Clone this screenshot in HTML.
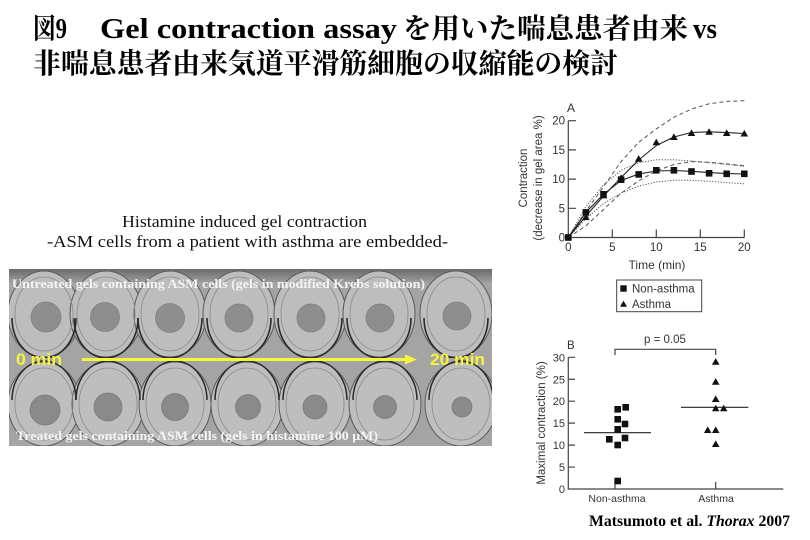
<!DOCTYPE html>
<html><head><meta charset="utf-8"><style>
html,body{margin:0;padding:0;background:#fff;}
svg{display:block;}
</style></head><body>
<svg width="810" height="540" viewBox="0 0 810 540" xmlns="http://www.w3.org/2000/svg">
<rect width="810" height="540" fill="#fff"/>

<!-- Title -->
<g font-family="'Liberation Serif','Noto Serif CJK SC','Noto Sans CJK JP',serif" font-weight="bold" font-size="28" fill="#000">
<text x="33" y="38" textLength="34" lengthAdjust="spacingAndGlyphs">図9</text>
<text x="100" y="38" textLength="297" lengthAdjust="spacingAndGlyphs">Gel contraction assay</text>
<text x="403" y="38" textLength="285" lengthAdjust="spacingAndGlyphs">を用いた喘息患者由来</text>
<text x="693" y="38" textLength="24" lengthAdjust="spacingAndGlyphs">vs</text>
<text x="33" y="73" textLength="585" lengthAdjust="spacingAndGlyphs">非喘息患者由来気道平滑筋細胞の収縮能の検討</text>
</g>

<!-- Photo caption -->
<g font-family="'Liberation Serif',serif" font-size="17" fill="#111">
<text x="122" y="227" textLength="245" lengthAdjust="spacingAndGlyphs">Histamine induced gel contraction</text>
<text x="47" y="247" textLength="401" lengthAdjust="spacingAndGlyphs">-ASM cells from a patient with asthma are embedded-</text>
</g>

<!-- Photo -->
<defs>
<clipPath id="topRow"><rect x="9" y="269" width="483" height="89"/></clipPath>
<clipPath id="botRow"><rect x="9" y="357" width="483" height="89"/></clipPath>
<linearGradient id="topband" x1="0" y1="0" x2="0" y2="1">
<stop offset="0" stop-color="#6a6a6a"/><stop offset="1" stop-color="#a0a0a0"/>
</linearGradient>
</defs>
<rect x="9" y="269" width="483" height="177" fill="#a4a4a4"/>
<rect x="9" y="269" width="483" height="14" fill="url(#topband)"/>

<g clip-path="url(#topRow)">
<g stroke="#5a5a5a" stroke-width="1" fill="#bdbdbd">
<ellipse cx="44" cy="314" rx="36" ry="43"/>
<ellipse cx="106" cy="314" rx="36" ry="43"/>
<ellipse cx="170" cy="314" rx="36" ry="43"/>
<ellipse cx="239" cy="314" rx="36" ry="43"/>
<ellipse cx="310" cy="314" rx="36" ry="43"/>
<ellipse cx="379" cy="314" rx="36" ry="43"/>
<ellipse cx="456" cy="314" rx="36" ry="43"/>
</g>
<g stroke="#2a2a2a" stroke-width="1.6" fill="none">
<path d="M12,318 A32 40 0 0 0 76,318"/>
<path d="M74,318 A32 40 0 0 0 138,318"/>
<path d="M138,318 A32 40 0 0 0 202,318"/>
<path d="M207,318 A32 40 0 0 0 271,318"/>
<path d="M278,318 A32 40 0 0 0 342,318"/>
<path d="M347,318 A32 40 0 0 0 411,318"/>
<path d="M424,318 A32 40 0 0 0 488,318"/>
</g>
<g stroke="#8a8a8a" stroke-width="0.8" fill="none">
<ellipse cx="44" cy="314" rx="29" ry="37"/>
<ellipse cx="106" cy="314" rx="29" ry="37"/>
<ellipse cx="170" cy="314" rx="29" ry="37"/>
<ellipse cx="239" cy="314" rx="29" ry="37"/>
<ellipse cx="310" cy="314" rx="29" ry="37"/>
<ellipse cx="379" cy="314" rx="29" ry="37"/>
<ellipse cx="456" cy="314" rx="29" ry="37"/>
</g>
<g fill="#8e8e8e" stroke="#808080" stroke-width="0.8">
<circle cx="46" cy="317" r="15"/>
<circle cx="105" cy="317" r="14.5"/>
<circle cx="170" cy="318" r="14.5"/>
<circle cx="239" cy="318" r="14"/>
<circle cx="311" cy="318" r="14"/>
<circle cx="380" cy="318" r="14"/>
<circle cx="457" cy="316" r="14"/>
</g>
</g>

<g clip-path="url(#botRow)">
<g stroke="#5a5a5a" stroke-width="1" fill="#bebebe">
<ellipse cx="44" cy="404" rx="36" ry="42"/>
<ellipse cx="108" cy="404" rx="36" ry="42"/>
<ellipse cx="175" cy="404" rx="36" ry="42"/>
<ellipse cx="247" cy="404" rx="36" ry="42"/>
<ellipse cx="315" cy="404" rx="36" ry="42"/>
<ellipse cx="385" cy="404" rx="36" ry="42"/>
<ellipse cx="461" cy="404" rx="36" ry="42"/>
</g>
<g stroke="#2a2a2a" stroke-width="1.5" fill="none">
<path d="M12,400 A32 39 0 0 1 76,400"/>
<path d="M76,400 A32 39 0 0 1 140,400"/>
<path d="M143,400 A32 39 0 0 1 207,400"/>
<path d="M215,400 A32 39 0 0 1 279,400"/>
<path d="M283,400 A32 39 0 0 1 347,400"/>
<path d="M353,400 A32 39 0 0 1 417,400"/>
<path d="M429,400 A32 39 0 0 1 493,400"/>
</g>
<g stroke="#8a8a8a" stroke-width="0.8" fill="none">
<ellipse cx="44" cy="404" rx="29" ry="36"/>
<ellipse cx="108" cy="404" rx="29" ry="36"/>
<ellipse cx="175" cy="404" rx="29" ry="36"/>
<ellipse cx="247" cy="404" rx="29" ry="36"/>
<ellipse cx="315" cy="404" rx="29" ry="36"/>
<ellipse cx="385" cy="404" rx="29" ry="36"/>
<ellipse cx="461" cy="404" rx="29" ry="36"/>
</g>
<g fill="#8a8a8a" stroke="#7a7a7a" stroke-width="0.8">
<circle cx="45" cy="410" r="15"/>
<circle cx="108" cy="407" r="14"/>
<circle cx="175" cy="407" r="13.5"/>
<circle cx="248" cy="407" r="12.5"/>
<circle cx="315" cy="407" r="12"/>
<circle cx="385" cy="407" r="11.5"/>
<circle cx="462" cy="407" r="10"/>
</g>
</g>

<!-- photo overlay text -->
<g font-family="'Liberation Serif',serif" font-weight="bold" font-size="13" fill="#f4f4f4">
<text x="12" y="288" textLength="413" lengthAdjust="spacingAndGlyphs">Untreated gels containing ASM cells (gels in modified Krebs solution)</text>
<text x="16" y="440" textLength="362" lengthAdjust="spacingAndGlyphs">Treated gels containing ASM cells (gels in histamine 100 μM)</text>
</g>
<g font-family="'Liberation Sans',sans-serif" font-weight="bold" font-size="17" fill="#f7f53a">
<text x="16" y="365" textLength="46" lengthAdjust="spacingAndGlyphs">0 min</text>
<text x="430" y="365" textLength="55" lengthAdjust="spacingAndGlyphs">20 min</text>
</g>
<line x1="82" y1="359.5" x2="408" y2="359.5" stroke="#f7f53a" stroke-width="3"/>
<polygon points="405,354.5 417,359.5 405,364.5" fill="#f7f53a"/>

<!-- Graph A -->
<g font-family="'Liberation Sans',sans-serif" fill="#333">
<text x="567" y="112" font-size="12">A</text>
<g font-size="11.5" text-anchor="end">
<text x="565" y="124.7">20</text>
<text x="565" y="153.9">15</text>
<text x="565" y="183.1">10</text>
<text x="565" y="212.3">5</text>
<text x="565" y="241.5">0</text>
</g>
<g font-size="11.5" text-anchor="middle">
<text x="568.3" y="251">0</text>
<text x="612.3" y="251">5</text>
<text x="656.3" y="251">10</text>
<text x="700.3" y="251">15</text>
<text x="744.3" y="251">20</text>
</g>
<text x="657" y="269" font-size="12" text-anchor="middle">Time (min)</text>
<text transform="translate(527,178) rotate(-90)" font-size="11.5" text-anchor="middle">Contraction</text>
<text transform="translate(542,178) rotate(-90)" font-size="11.5" text-anchor="middle">(decrease in gel area %)</text>
</g>
<g stroke="#444" stroke-width="1.2" fill="none">
<path d="M568.3,120.7 V237.5 H744.3"/>
<path d="M568.3,120.7 H576 M568.3,149.9 H576 M568.3,179.1 H576 M568.3,208.3 H576"/>
<path d="M612.3,237.5 V229.5 M656.3,237.5 V229.5 M700.3,237.5 V229.5 M744.3,237.5 V229.5"/>
</g>
<!-- confidence bands -->
<g fill="none" stroke="#555" stroke-width="1">
<polyline stroke-dasharray="4 3" points="568.3,237.5 585.9,211.2 603.5,186.7 621.1,161.6 638.7,142.3 656.3,128.9 673.9,117.2 691.5,109 709.1,103.8 726.7,101.4 744.3,100.8"/>
<polyline stroke-dasharray="4 3" points="568.3,237.5 585.9,225.8 603.5,209.5 621.1,193.1 638.7,180.9 656.3,170.9 673.9,164.5 691.5,161.6 709.1,162.2 726.7,163.9 744.3,165.7"/>
<polyline stroke-dasharray="1.2 1.6" points="568.3,237.5 585.9,206.5 603.5,184.9 621.1,170.3 638.7,162.7 656.3,159.8 673.9,159.8 691.5,161 709.1,162.7 726.7,164.5 744.3,166.3"/>
<polyline stroke-dasharray="1.2 1.6" points="568.3,237.5 585.9,218.8 603.5,203.6 621.1,193.1 638.7,186.1 656.3,182 673.9,180.3 691.5,180.3 709.1,181.4 726.7,182.6 744.3,183.8"/>
</g>
<!-- fit lines -->
<g fill="none" stroke="#222" stroke-width="1.1" stroke-linejoin="round">
<polyline points="568.3,237.5 585.9,216 603.5,196 621.1,177.5 638.7,160 656.3,145.5 673.9,137 691.5,132.5 709.1,131.8 726.7,132.6 744.3,133.5"/>
<polyline points="568.3,237.5 585.9,212.4 603.5,194.3 621.1,180.5 638.7,174 656.3,171 673.9,170.5 691.5,171.3 709.1,172.6 726.7,173.6 744.3,174"/>
</g>
<!-- markers A -->
<g fill="#111">
<polygon points="582.1,220.1 589.7,220.1 585.9,213.5"/>
<polygon points="599.7,198.4 607.3,198.4 603.5,191.8"/>
<polygon points="617.3,180.9 624.9,180.9 621.1,174.3"/>
<polygon points="634.9,161.7 642.5,161.7 638.7,155.1"/>
<polygon points="652.5,145.3 660.1,145.3 656.3,138.7"/>
<polygon points="670.1,140 677.7,140 673.9,133.4"/>
<polygon points="687.7,136 695.3,136 691.5,129.4"/>
<polygon points="705.3,134.8 712.9,134.8 709.1,128.2"/>
<polygon points="722.9,136 730.5,136 726.7,129.4"/>
<polygon points="740.5,136.5 748.1,136.5 744.3,129.9"/>
<rect x="565" y="234.2" width="6.6" height="6.6"/>
<rect x="582.6" y="209.1" width="6.6" height="6.6"/>
<rect x="600.2" y="191" width="6.6" height="6.6"/>
<rect x="617.8" y="176.4" width="6.6" height="6.6"/>
<rect x="635.4" y="171.1" width="6.6" height="6.6"/>
<rect x="653" y="167" width="6.6" height="6.6"/>
<rect x="670.6" y="167" width="6.6" height="6.6"/>
<rect x="688.2" y="168.2" width="6.6" height="6.6"/>
<rect x="705.8" y="170" width="6.6" height="6.6"/>
<rect x="723.4" y="170.5" width="6.6" height="6.6"/>
<rect x="741" y="170.5" width="6.6" height="6.6"/>
</g>
<!-- legend -->
<rect x="616.7" y="280" width="85" height="31.7" fill="none" stroke="#444" stroke-width="1"/>
<rect x="620.3" y="285.3" width="6.4" height="6.4" fill="#111"/>
<polygon points="620,306.8 627,306.8 623.5,300.8" fill="#111"/>
<g font-family="'Liberation Sans',sans-serif" font-size="11.5" fill="#333">
<text x="632" y="292.5">Non-asthma</text>
<text x="632" y="308">Asthma</text>
</g>

<!-- Graph B -->
<g font-family="'Liberation Sans',sans-serif" fill="#333">
<text x="567" y="349" font-size="11.5">B</text>
<text x="665" y="343" font-size="11.5" text-anchor="middle">p = 0.05</text>
<g font-size="11" text-anchor="end">
<text x="565" y="361.3">30</text>
<text x="565" y="383.3">25</text>
<text x="565" y="405.2">20</text>
<text x="565" y="427.2">15</text>
<text x="565" y="449.1">10</text>
<text x="565" y="471.1">5</text>
<text x="565" y="493">0</text>
</g>
<g font-size="10.5" text-anchor="middle">
<text x="617" y="502">Non-asthma</text>
<text x="716" y="502">Asthma</text>
</g>
<text transform="translate(545,423) rotate(-90)" font-size="11.5" text-anchor="middle">Maximal contraction (%)</text>
</g>
<g stroke="#444" stroke-width="1.2" fill="none">
<path d="M568.3,357.3 V489 H783.3"/>
<path d="M568.3,357.3 H575 M568.3,379.25 H575 M568.3,401.2 H575 M568.3,423.15 H575 M568.3,445.1 H575 M568.3,467.05 H575"/>
<path d="M615,489 V482 M715.7,489 V482"/>
<path d="M615,355 V349.3 H715.7 V355"/>
</g>
<g stroke="#222" stroke-width="1.1">
<line x1="584" y1="432.7" x2="651" y2="432.7"/>
<line x1="681" y1="407.3" x2="748.3" y2="407.3"/>
</g>
<g fill="#111">
<rect x="614.4" y="406" width="6.6" height="6.6"/>
<rect x="622.4" y="404" width="6.6" height="6.6"/>
<rect x="614.4" y="416" width="6.6" height="6.6"/>
<rect x="621.7" y="420.7" width="6.6" height="6.6"/>
<rect x="614.4" y="426" width="6.6" height="6.6"/>
<rect x="606" y="436" width="6.6" height="6.6"/>
<rect x="621.7" y="434.7" width="6.6" height="6.6"/>
<rect x="614.4" y="441.7" width="6.6" height="6.6"/>
<rect x="614.4" y="477.7" width="6.6" height="6.6"/>
<polygon points="711.9,364.7 719.5,364.7 715.7,358.1"/>
<polygon points="711.9,384.7 719.5,384.7 715.7,378.1"/>
<polygon points="711.9,402 719.5,402 715.7,395.4"/>
<polygon points="711.9,411.3 719.5,411.3 715.7,404.7"/>
<polygon points="719.9,411.3 727.5,411.3 723.7,404.7"/>
<polygon points="703.9,433 711.5,433 707.7,426.4"/>
<polygon points="711.9,433 719.5,433 715.7,426.4"/>
<polygon points="711.9,447 719.5,447 715.7,440.4"/>
</g>

<!-- Citation -->
<text x="589" y="526" font-family="'Liberation Serif',serif" font-weight="bold" font-size="16" fill="#000" textLength="201" lengthAdjust="spacingAndGlyphs">Matsumoto et al. <tspan font-style="italic">Thorax</tspan> 2007</text>
</svg>
</body></html>
